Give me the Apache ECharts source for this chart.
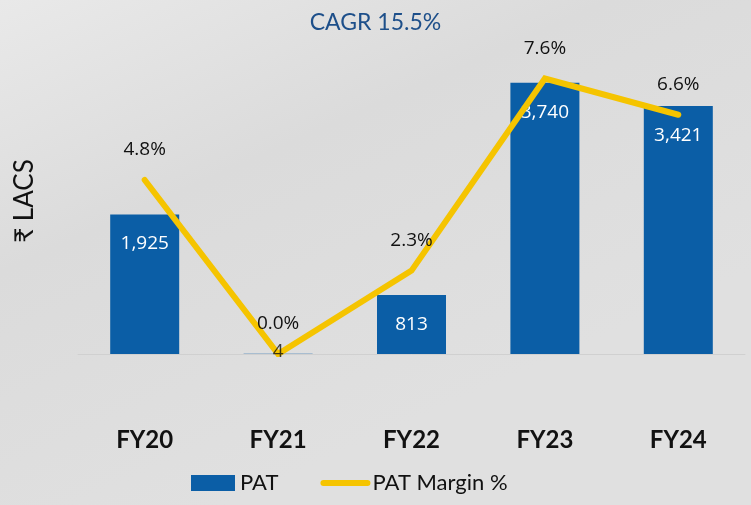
<!DOCTYPE html>
<html>
<head>
<meta charset="utf-8">
<script src="https://cdn.jsdelivr.net/npm/echarts@6/dist/echarts.min.js"></script>
<style>html,body{margin:0;padding:0;}#c{width:751px;height:505px;}</style>
</head>
<body>
<div id="c"></div>
<script>
var categories = ['FY20', 'FY21', 'FY22', 'FY23', 'FY24'];
var patValues = [1925, 4, 813, 3740, 3421];
var marginValues = [4.8, 0.0, 2.3, 7.6, 6.6];

var chart = echarts.init(document.getElementById('c'));
var fmt = function (v) { return v.toLocaleString('en-US'); };
var barData = patValues.map(function (v) {
  if (v < 100) {
    return { value: v, label: { show: false } };
  }
  return v;
});
var smallLabelData = patValues.map(function (v, i) {
  return v < 100 ? [i, v] : null;
}).filter(function (d) { return d; });

chart.setOption({
  backgroundColor: {
    type: 'linear', x: 0, y: 0, x2: 0.3, y2: 1,
    colorStops: [
      { offset: 0, color: '#e9e9e9' },
      { offset: 0.45, color: '#dbdbdb' },
      { offset: 1, color: '#e0e0e0' }
    ]
  },
  title: {
    text: 'CAGR 15.5%',
    left: 'center',
    top: 6,
    textStyle: { color: '#1d4f8a', fontSize: 23, fontWeight: 'normal', fontFamily: 'Lato' }
  },
  grid: { left: 78, right: 6, top: 64, bottom: 151 },
  legend: {
    bottom: 6,
    left: 186,
    itemGap: 42,
    itemWidth: 44,
    itemHeight: 16,
    textStyle: { fontSize: 22, color: '#111', fontFamily: 'Lato' },
    data: [
      { name: 'PAT', icon: 'rect' },
      { name: 'PAT Margin %', itemStyle: { opacity: 0 }, lineStyle: { width: 6, cap: 'round', color: '#f5c400' } }
    ]
  },
  xAxis: {
    type: 'category',
    data: categories,
    axisTick: { show: false },
    axisLine: { lineStyle: { color: '#d0d0d0', width: 1 } },
    axisLabel: { margin: 74, fontSize: 24, fontWeight: 'bold', color: '#111', fontFamily: 'Lato' }
  },
  yAxis: [
    {
      type: 'value', min: 0, max: 4000,
      name: '₹ LACS', nameLocation: 'middle', nameGap: 40, nameRotate: 90,
      nameTextStyle: { fontSize: 26, color: '#111', fontFamily: 'Lato', padding: [0, 0, 0, 16] },
      axisLabel: { show: false }, splitLine: { show: false },
      axisLine: { show: false }, axisTick: { show: false }
    },
    {
      type: 'value', min: 0, max: 8,
      axisLabel: { show: false }, splitLine: { show: false },
      axisLine: { show: false }, axisTick: { show: false }
    }
  ],
  series: [
    {
      name: 'PAT',
      type: 'bar',
      data: barData,
      barWidth: 69,
      itemStyle: { color: '#0b5ea6' },
      label: {
        show: true, position: 'insideTop', distance: 20,
        color: '#fff', fontSize: 19, fontFamily: 'Open Sans',
        formatter: function (p) { return fmt(p.value); }
      },
      z: 2
    },
    {
      name: 'PAT Margin %',
      type: 'line',
      yAxisIndex: 1,
      data: marginValues,
      symbol: 'circle',
      symbolSize: 1,
      showSymbol: true,
      itemStyle: { color: '#f5c400' },
      lineStyle: { color: '#f5c400', width: 6, cap: 'round', join: 'miter' },
      label: {
        show: true, position: 'top', distance: 20,
        color: '#111', fontSize: 19, fontFamily: 'Open Sans',
        formatter: function (p) { return p.value.toFixed(1) + '%'; }
      },
      z: 3
    },
    {
      name: 'PAT small label',
      type: 'scatter',
      data: smallLabelData,
      symbolSize: 0,
      silent: true,
      tooltip: { show: false },
      label: {
        show: true, position: 'inside', offset: [0, -2],
        color: '#111', fontSize: 19, fontFamily: 'Open Sans',
        formatter: function (p) { return fmt(p.value[1]); }
      },
      z: 5
    }
  ]
});
</script>
</body>
</html>
